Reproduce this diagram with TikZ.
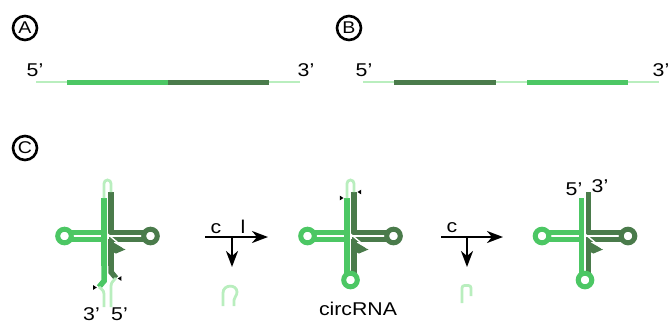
\documentclass[tikz,border=0pt]{standalone}
\usepackage{fontspec}
\setmainfont[FakeStretch=1.15]{Liberation Sans}
\usetikzlibrary{arrows.meta}

\definecolor{rnamid}{HTML}{4CC764}
\definecolor{rnadark}{HTML}{4A7B4B}
\definecolor{rnalight}{HTML}{B9EEBE}

\tikzset{
  midstrand/.style={draw=rnamid, line width=5.5pt},
  darkstrand/.style={draw=rnadark, line width=5.5pt},
  lightstrand/.style={draw=rnalight, line width=2.8pt},
  ring/.style={line width=5pt},
  panel/.style={circle, draw, line width=2.6pt, minimum size=24pt, inner sep=0pt,
    font=\fontsize{17}{17}\selectfont},
  lab/.style={anchor=base, inner sep=0pt, font=\fontsize{18.5}{20}\selectfont},
  rxn/.style={line width=2.5pt, -{Stealth[length=16pt, width=12pt, inset=5pt]}},
}

% small black cut marks
\newcommand{\cutright}[1]{\fill (#1) ++(-1.8,-2.3) -- ++(3.6,2.3) -- ++(-3.6,2.3) -- cycle;}
\newcommand{\cutleft}[1]{\fill (#1) ++(1.8,-2.3) -- ++(-3.6,2.3) -- ++(3.6,2.3) -- cycle;}

\begin{document}
\begin{tikzpicture}[x=1pt, y=-1pt]
    \useasboundingbox (0,0) rectangle (670,325);

    \node[panel] (pA) at (25,28) {A};
    \node[panel] (pB) at (349,28) {B};
    \node[panel] (pC) at (25,148) {C};

    % linear precursors
    \foreach \n/\x in {0/36, 1/67, 2/168, 3/269, 4/300}
        \coordinate (a\n) at (\x,82);
    \foreach \n/\x in {0/363, 1/394, 2/496, 3/527, 4/628, 5/659}
        \coordinate (b\n) at (\x,82);

    \draw[lightstrand, line width=2.2pt] (a0) -- (a1) (a3) -- (a4);
    \draw[midstrand, line width=5pt] (a1) -- (a2);
    \draw[darkstrand, line width=5pt] (a2) -- (a3);

    \draw[lightstrand, line width=2.2pt] (b0) -- (b1) (b2) -- (b3) (b4) -- (b5);
    \draw[darkstrand, line width=5pt] (b1) -- (b2);
    \draw[midstrand, line width=5pt] (b3) -- (b4);

    \node[lab] (a5p) at (35,76) {5'};
    \node[lab] (a3p) at (306,76) {3'};
    \node[lab] (b5p) at (364,76) {5'};
    \node[lab] (b3p) at (661,76) {3'};

    % the junction and the two side loops, same for all three
    \foreach \cx in {107.5, 350.5, 585}{
        \begin{scope}[shift={(\cx,236)}]
            \draw[midstrand] (-3.5,-38) -- (-3.5,30);
            \draw[midstrand] (-37.5,-3.5) -- (-3.5,-3.5);
            \draw[midstrand] (-37.5,3.5) -- (-3.5,3.5);
            \draw[midstrand, ring] (-43,0) circle[radius=6.8];
            \draw[darkstrand] (3.5,-44) |- (37.5,-3.5);
            \draw[darkstrand] (37.5,3.5) -- (1,3.5);
            \draw[darkstrand] (3.5,3) -- (3.5,30);
            \fill[rnadark] (1.5,4) -- (18,13.5) -- (8.5,17.5) -- (1.5,14) -- cycle;
            \draw[white, line width=1.4pt] (0,-2) -- (17,12.3);
            \draw[darkstrand, ring] (43,0) circle[radius=6.8];
        \end{scope}
    }

    % precursor with open ends
    \begin{scope}[shift={(107.5,236)}]
        \draw[lightstrand] (-3.5,-38) -- (-3.5,-52.5) arc[start angle=180, end angle=360, radius=3.5] -- (3.5,-44);
        \draw[midstrand] (-3.5,30) -- (-3.5,45) -- (-8.5,51);
        \draw[darkstrand] (3.5,30) -- (3.5,36) -- (8.5,42);
        \draw[lightstrand] (-8.5,51) .. controls (-3.5,55) .. (-3.5,61) -- (-3.5,71);
        \draw[lightstrand] (8.5,42) .. controls (3.5,47) .. (3.5,53) -- (3.5,71);
        \cutright{-12.5,51.5}
        \cutleft{12,42.5}
        \node[lab] (c3p) at (-16,84) {3'};
        \node[lab] (c5p) at (12,84) {5'};
    \end{scope}

    % circular form
    \begin{scope}[shift={(350.5,236)}]
        \draw[lightstrand] (-3.5,-38) -- (-3.5,-52.5) arc[start angle=180, end angle=360, radius=3.5] -- (3.5,-44);
        \draw[midstrand] (-3.5,30) -- (-3.5,39);
        \draw[darkstrand] (3.5,30) -- (3.5,39);
        \draw[midstrand, ring] (0,44) circle[radius=6.8];
        \cutright{-8.8,-38}
        \cutleft{8.8,-44}
        \node[lab] (circ) at (7.5,79) {circRNA};
    \end{scope}

    % opened again at the top
    \begin{scope}[shift={(585,236)}]
        \draw[midstrand] (-3.5,30) -- (-3.5,39);
        \draw[darkstrand] (3.5,30) -- (3.5,39);
        \draw[midstrand, ring] (0,44) circle[radius=6.8];
        \node[lab] (e5p) at (-11,-41) {5'};
        \node[lab] (e3p) at (15,-44) {3'};
    \end{scope}

    % reaction arrows
    \coordinate (r1a) at (205,237);
    \coordinate (r1b) at (268,237);
    \coordinate (r1c) at (232,237);
    \coordinate (r1d) at (232,267);
    \draw[rxn] (r1a) -- (r1b);
    \draw[rxn] (r1c) -- (r1d);
    \node[lab] (cut1) at (216,233) {c};
    \node[lab] (lig) at (243,233) {l};

    \coordinate (r2a) at (441,237);
    \coordinate (r2b) at (503,237);
    \coordinate (r2c) at (467,237);
    \coordinate (r2d) at (467,267);
    \draw[rxn] (r2a) -- (r2b);
    \draw[rxn] (r2c) -- (r2d);
    \node[lab] (cut2) at (452,232) {c};

    % released pieces
    \draw[lightstrand] (223,306) -- (223,293) .. controls (223,284) and (237,284) .. (237,292)
        .. controls (237,296) and (234,297) .. (234,300) -- (234,306);
    \draw[lightstrand, rounded corners=2.5pt] (462,303) |- (471,285.5) -- (471,296);
\end{tikzpicture}
\end{document}
